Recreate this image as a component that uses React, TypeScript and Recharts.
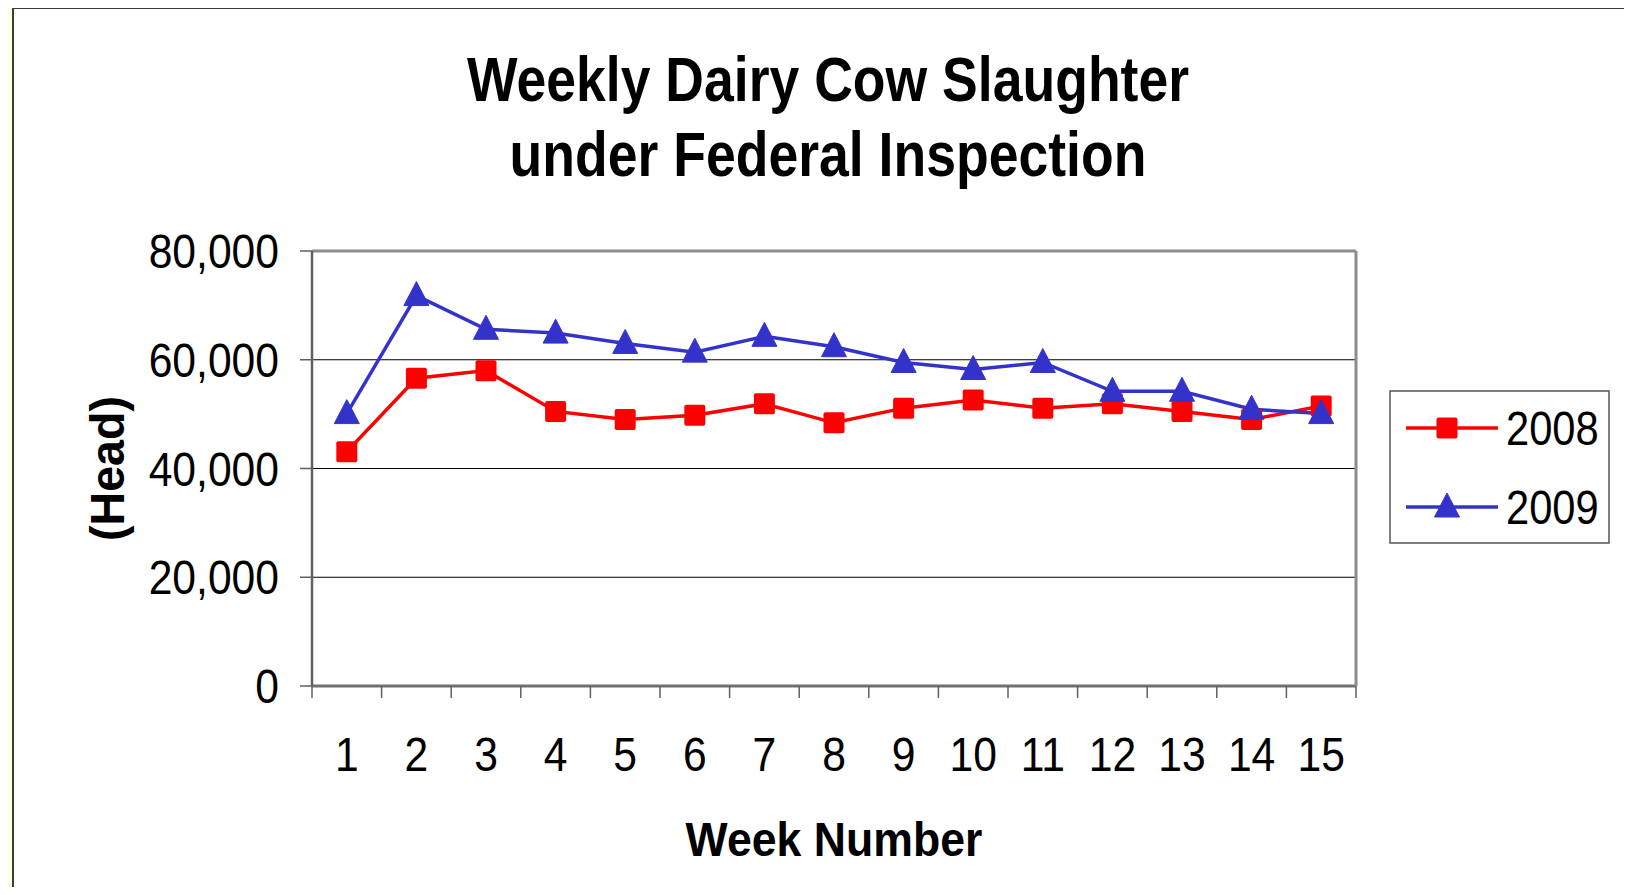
import React from 'react';
import { LineChart, Line, XAxis, YAxis, CartesianGrid, Legend } from 'recharts';

const weeks = ['1', '2', '3', '4', '5', '6', '7', '8', '9', '10', '11', '12', '13', '14', '15'];
const head2008 = [43100, 56600, 58000, 50500, 49000, 49800, 51900, 48400, 51100, 52600, 51100, 51900, 50500, 49000, 51500];
const head2009 = [50100, 71800, 65600, 64900, 63000, 61400, 64300, 62400, 59500, 58200, 59500, 54200, 54200, 50900, 50100];
const yTicks = [0, 20000, 40000, 60000, 80000];
const seriesNames = ['2008', '2009'];

const FONT = '"Liberation Sans", Arial, sans-serif';
const RED = '#FF0000';
const BLUE = '#3333CC';
const BAND = 1044 / weeks.length;

const data = weeks.map((w, i) => ({ week: w, y2008: head2008[i], y2009: head2009[i] }));

const SquareDot = ({ cx, cy }: any) => (
    <rect x={cx - 10.5} y={cy - 10.5} width={21} height={21} rx={2} fill={RED} />
);

const TriangleDot = ({ cx, cy }: any) => (
    <polygon points={`${cx},${cy - 14} ${cx - 12.5},${cy + 10} ${cx + 12.5},${cy + 10}`} fill={BLUE} stroke={BLUE} strokeWidth={1} strokeLinejoin="round" />
);

const NarrowText = ({ x, y, sx, anchor, size, bold, children }: any) => (
    <text transform={`translate(${x},${y}) scale(${sx},1)`} textAnchor={anchor} dominantBaseline="central"
        fontSize={size} fontWeight={bold ? 'bold' : 'normal'} fontFamily={FONT} fill="#000">{children}</text>
);

const WeekTick = ({ x, y, payload, index }: any) => (
    <g>
        <line x1={x - BAND / 2} y1={y} x2={x - BAND / 2} y2={y + 12} stroke="#606060" strokeWidth={1.5} />
        {index === weeks.length - 1 && <line x1={x + BAND / 2} y1={y} x2={x + BAND / 2} y2={y + 12} stroke="#606060" strokeWidth={1.5} />}
        <NarrowText x={x} y={y + 68} sx={0.87} anchor="middle" size={49}>{payload.value}</NarrowText>
    </g>
);

const HeadTick = ({ x, y, payload }: any) => (
    <NarrowText x={x} y={y} sx={0.87} anchor="end" size={49}>{payload.value.toLocaleString('en-US')}</NarrowText>
);

const WeekLabel = ({ viewBox }: any) => (
    <NarrowText x={viewBox.x + viewBox.width / 2} y={viewBox.y + 153} sx={0.93} anchor="middle" size={48} bold>Week Number</NarrowText>
);

const HeadLabel = ({ viewBox }: any) => (
    <text transform={`translate(107,${viewBox.y + viewBox.height / 2}) rotate(-90) scale(0.97,1)`} textAnchor="middle" dominantBaseline="central"
        fontSize={48} fontWeight="bold" fontFamily={FONT} fill="#000">(Head)</text>
);

const LegendBox = () => (
    <svg width={222} height={155}>
        <rect x={1} y={1} width={219} height={152} fill="#fff" stroke="#555" strokeWidth={1.5} />
        {seriesNames.map((name, i) => {
            const cy = i === 0 ? 38 : 117;
            const color = i === 0 ? RED : BLUE;
            return (
                <g key={name}>
                    <line x1={17} y1={cy} x2={109} y2={cy} stroke={color} strokeWidth={3.5} />
                    {i === 0
                        ? <SquareDot cx={58} cy={cy} />
                        : <TriangleDot cx={58} cy={cy} />}
                    <NarrowText x={117} y={cy} sx={0.85} anchor="start" size={49}>{name}</NarrowText>
                </g>
            );
        })}
    </svg>
);

const App = () => (
    <div style={{ position: 'relative', margin: -8, width: 1632, height: 895, background: '#FFFFE0', overflow: 'hidden' }}>
        <div style={{ position: 'absolute', left: 12, top: 7, width: 1700, height: 1000, border: '2px solid #3c3c3c', background: '#fff' }} />
        <div style={{ position: 'absolute', left: 0, top: 0, width: 1632, height: 895 }}>
            <div style={{ position: 'absolute', left: 0, width: 1656, top: 42, textAlign: 'center', fontFamily: FONT, fontWeight: 'bold', fontSize: 63, lineHeight: '75px', transform: 'scaleX(0.85)', transformOrigin: '828px 0' }}>
                Weekly Dairy Cow Slaughter<br />under Federal Inspection
            </div>
            <LineChart width={1632} height={895} data={data} margin={{ top: 250, right: 275, left: 0, bottom: 59 }}>
                <CartesianGrid horizontal vertical={false} stroke="#000" strokeWidth={1} />
                <XAxis dataKey="week" type="category" height={150} padding={{ left: BAND / 2, right: BAND / 2 }}
                    axisLine={{ stroke: '#707070', strokeWidth: 3 }} tickLine={false} tickSize={0} tickMargin={0}
                    tick={<WeekTick />} interval={0} label={<WeekLabel />} />
                <XAxis xAxisId="top" dataKey="week" orientation="top" height={1} tick={false} tickLine={false}
                    axisLine={{ stroke: '#8c8c8c', strokeWidth: 3 }} padding={{ left: BAND / 2, right: BAND / 2 }} />
                <YAxis domain={[0, 80000]} ticks={yTicks} width={312} interval={0}
                    axisLine={{ stroke: '#606060', strokeWidth: 2.5 }} tickLine={{ stroke: '#606060', strokeWidth: 1.5 }}
                    tickSize={12} tickMargin={21} tick={<HeadTick />} label={<HeadLabel />} />
                <YAxis yAxisId="right" orientation="right" width={1} domain={[0, 80000]} ticks={yTicks} tick={false} tickLine={false}
                    axisLine={{ stroke: '#8c8c8c', strokeWidth: 3 }} />
                <Legend layout="vertical" align="center" verticalAlign="middle" content={<LegendBox />}
                    wrapperStyle={{ position: 'absolute', left: 1389, top: 390, width: 222, height: 155 }} />
                <Line dataKey="y2008" name="2008" stroke={RED} strokeWidth={3.5} dot={<SquareDot />} activeDot={false} isAnimationActive={false} />
                <Line dataKey="y2009" name="2009" xAxisId="top" yAxisId="right" stroke={BLUE} strokeWidth={3.5} dot={<TriangleDot />} activeDot={false} isAnimationActive={false} />
            </LineChart>
        </div>
    </div>
);

export default App;
